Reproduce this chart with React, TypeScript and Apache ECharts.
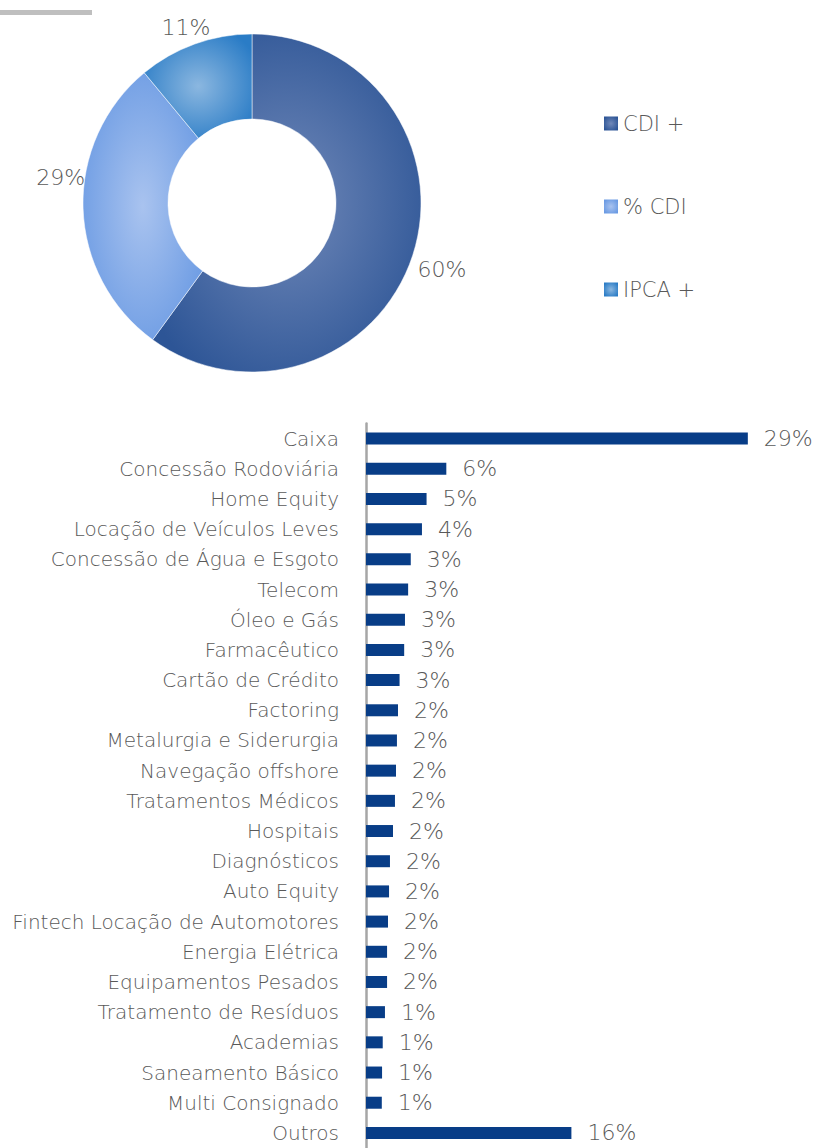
import React, { useEffect, useRef } from "react";
import * as echarts from "echarts";

const pieNames = ["CDI +", "% CDI", "IPCA +"];
const pieValues = [60, 29, 11];

const categories = [
  "Caixa",
  "Concessão Rodoviária",
  "Home Equity",
  "Locação de Veículos Leves",
  "Concessão de Água e Esgoto",
  "Telecom",
  "Óleo e Gás",
  "Farmacêutico",
  "Cartão de Crédito",
  "Factoring",
  "Metalurgia e Siderurgia",
  "Navegação offshore",
  "Tratamentos Médicos",
  "Hospitais",
  "Diagnósticos",
  "Auto Equity",
  "Fintech Locação de Automotores",
  "Energia Elétrica",
  "Equipamentos Pesados",
  "Tratamento de Resíduos",
  "Academias",
  "Saneamento Básico",
  "Multi Consignado",
  "Outros",
];
const barValues = [
  29.0, 6.1, 4.6, 4.25, 3.4, 3.2, 2.96, 2.9, 2.55, 2.43, 2.35, 2.28, 2.2, 2.05,
  1.82, 1.75, 1.67, 1.6, 1.6, 1.44, 1.27, 1.22, 1.2, 15.6,
];

const FONT = "DejaVu Sans";
const TXT = "#595959";
const pieLabelShift = [
  [-4, 13],
  [11, -31],
  [22, -13],
];

const radial = (inner: string, outer: string) =>
  new echarts.graphic.RadialGradient(0.5, 0.5, 0.6, [
    { offset: 0, color: inner },
    { offset: 1, color: outer },
  ]);

export default function App() {
  const ref = useRef<HTMLDivElement>(null);
  useEffect(() => {
    if (!ref.current) return;
    const chart = echarts.init(ref.current, null, { renderer: "svg" });
    const pieColors = [
      radial("#7189b9", "#2d5596"),
      radial("#a9c3ef", "#6a9ae3"),
      radial("#8bb7e0", "#2a7cc6"),
    ];
    chart.setOption({
      animation: false,
      graphic: [
        {
          type: "rect",
          shape: { x: 0, y: 10, width: 92, height: 5 },
          style: { fill: "#bfbfbf" },
        },
      ],
      legend: {
        orient: "vertical",
        left: 599,
        top: 108,
        itemGap: 62,
        itemWidth: 14,
        itemHeight: 14,
        icon: "rect",
        itemStyle: { borderWidth: 0 },
        textStyle: { fontFamily: FONT, fontSize: 21, color: TXT, fontWeight: 200 },
        data: pieNames,
      },
      grid: { left: 366, top: 423.5, width: 395, height: 727, containLabel: false },
      xAxis: {
        type: "value",
        min: 0,
        max: 30,
        show: false,
      },
      yAxis: {
        type: "category",
        data: categories,
        inverse: true,
        axisTick: { show: false },
        axisLine: { show: true, lineStyle: { color: "#a6a6a6", width: 2.5 } },
        axisLabel: { fontFamily: FONT, fontSize: 20, color: TXT, fontWeight: 200, margin: 27 },
      },
      series: [
        {
          type: "pie",
          center: [252, 203],
          radius: [84, 169],
          startAngle: 90,
          clockwise: true,
          data: pieNames.map((n, i) => ({
            name: n,
            value: pieValues[i],
            itemStyle: { color: pieColors[i] },
          })),
          itemStyle: { borderColor: "#ffffff", borderWidth: 0.5 },
          label: {
            show: true,
            position: "outside",
            formatter: (p: any) => p.value + "%",
            fontFamily: FONT,
            fontSize: 22,
            fontWeight: 200,
            color: TXT,
          },
          labelLine: { show: false, length: 4, length2: 0 },
          labelLayout: (p: any) => ({
            dx: pieLabelShift[p.dataIndex][0],
            dy: pieLabelShift[p.dataIndex][1],
          }),
          emphasis: { disabled: true },
        },
        {
          type: "bar",
          data: barValues,
          barWidth: 12,
          itemStyle: { color: "#083d87" },
          label: {
            show: true,
            position: "right",
            distance: 16,
            formatter: (p: any) => Math.round(p.value) + "%",
            fontFamily: FONT,
            fontSize: 22,
            fontWeight: 200,
            color: TXT,
          },
        },
      ],
    });
    return () => chart.dispose();
  }, []);
  return (
    <div
      ref={ref}
      style={{ position: "absolute", left: 0, top: 0, width: 816, height: 1148 }}
    />
  );
}
